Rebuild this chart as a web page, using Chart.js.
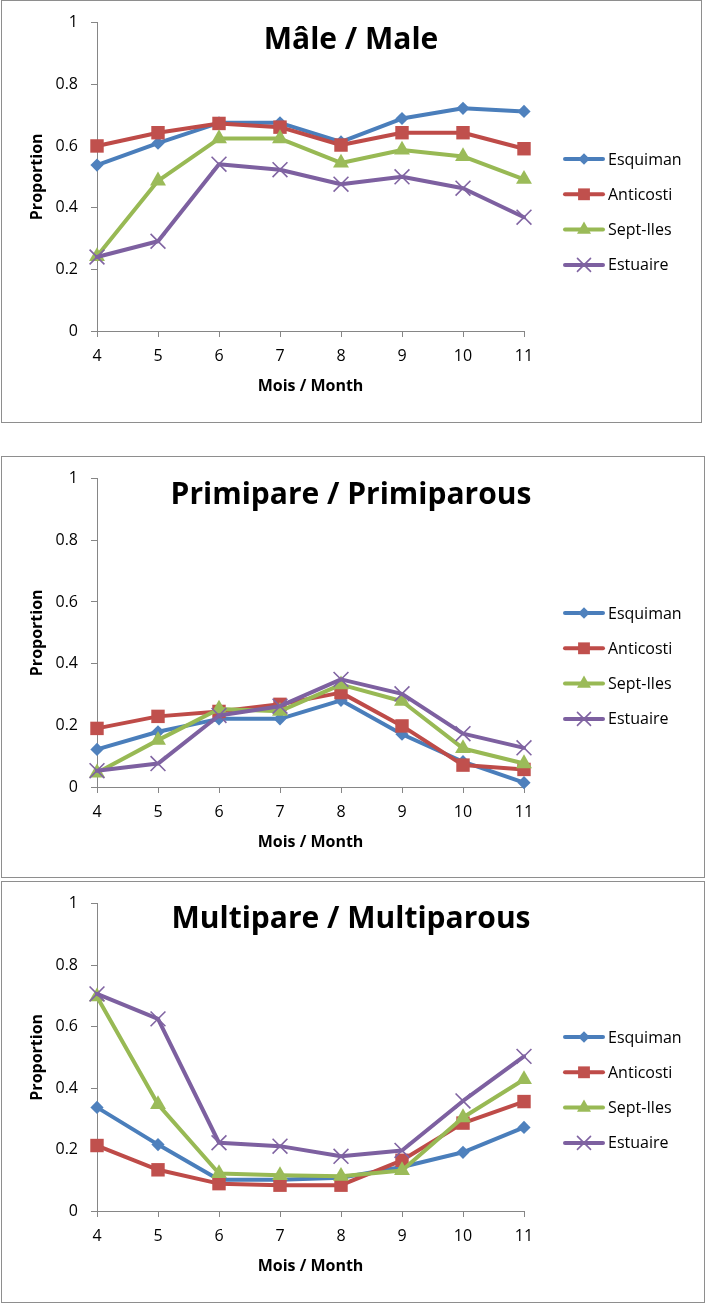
<!DOCTYPE html>
<html><head><meta charset="utf-8">
<script src="https://cdn.jsdelivr.net/npm/chart.js@4.4.0/dist/chart.umd.min.js"></script>
<style>
html,body{margin:0;padding:0;background:#fff;}
body{width:705px;height:1303px;position:relative;overflow:hidden;font-family:"Open Sans",sans-serif;}
.panel{position:absolute;box-sizing:border-box;border:1px solid #8e8e8e;}
canvas{position:absolute;left:0;}
</style></head><body>
<div class="panel" style="left:1px;top:0px;width:701px;height:423px"></div>
<div class="panel" style="left:1px;top:456px;width:704px;height:422px"></div>
<div class="panel" style="left:1px;top:881px;width:704px;height:422px"></div>
<canvas id="c1" style="top:0px" width="705" height="423"></canvas>
<canvas id="c2" style="top:456px" width="705" height="422"></canvas>
<canvas id="c3" style="top:881px" width="705" height="422"></canvas>
<script>
// ---- data ----
const months = ['4','5','6','7','8','9','10','11'];
const yTickLabels = ['0','0.2','0.4','0.6','0.8','1'];
const seriesNames = ['Esquiman','Anticosti','Sept-Iles','Estuaire'];
const panelTitles = ['Mâle / Male','Primipare / Primiparous','Multipare / Multiparous'];
const xAxisTitle = 'Mois / Month';
const yAxisTitle = 'Proportion';

const maleEsquiman  = [0.538,0.609,0.675,0.675,0.613,0.689,0.722,0.712];
const maleAnticosti = [0.600,0.643,0.673,0.661,0.603,0.643,0.643,0.591];
const maleSeptIles  = [0.242,0.487,0.624,0.624,0.545,0.587,0.566,0.492];
const maleEstuaire  = [0.240,0.291,0.541,0.523,0.476,0.500,0.463,0.369];

const primEsquiman  = [0.122,0.179,0.221,0.221,0.281,0.171,0.082,0.014];
const primAnticosti = [0.190,0.229,0.245,0.268,0.306,0.198,0.071,0.057];
const primSeptIles  = [0.046,0.152,0.253,0.246,0.332,0.278,0.125,0.076];
const primEstuaire  = [0.053,0.076,0.232,0.262,0.349,0.302,0.173,0.127];

const multEsquiman  = [0.337,0.216,0.102,0.102,0.108,0.143,0.191,0.272];
const multAnticosti = [0.213,0.134,0.089,0.084,0.084,0.165,0.286,0.356];
const multSeptIles  = [0.697,0.347,0.122,0.116,0.113,0.132,0.304,0.428];
const multEstuaire  = [0.706,0.625,0.222,0.211,0.178,0.197,0.358,0.503];

// ---- styles ----
const lineColors   = ['#4A7EBB','#BE4B48','#98B954','#7D60A0'];
const markerColors = ['#4F81BD','#C0504D','#9BBB59','#8064A2'];
const pointStyles  = ['rectRot','rect','triangle','crossRot'];
const pointRadii   = [6.6,9.5,9.2,10.5];
const pointBorders = [0,0,0,1.6];
const FONT = '"Open Sans", sans-serif';

const titlePlugin = {
  id:'panelTitle',
  afterDraw(chart, args, o){
    const ctx = chart.ctx;
    ctx.save();
    ctx.fillStyle = '#000';
    ctx.font = 'bold 30px ' + FONT;
    ctx.textAlign = 'center';
    ctx.textBaseline = 'alphabetic';
    ctx.fillText(o.text, o.x, o.y);
    ctx.restore();
  }
};

const legendPlugin = {
  id:'lineLegend',
  afterDraw(chart, args, o){
    const ctx = chart.ctx;
    ctx.save();
    chart.data.datasets.forEach((d,i)=>{
      const y = o.top + i*o.gap;
      ctx.strokeStyle = d.borderColor;
      ctx.lineWidth = d.borderWidth;
      ctx.lineCap = 'round';
      ctx.beginPath(); ctx.moveTo(o.x0, y); ctx.lineTo(o.x1, y); ctx.stroke();
      ctx.fillStyle = d.pointBackgroundColor;
      ctx.strokeStyle = d.pointBorderColor;
      ctx.lineWidth = d.pointBorderWidth;
      Chart.helpers.drawPoint(ctx, {pointStyle:d.pointStyle, radius:d.pointRadius*0.88, rotation:0, borderWidth:d.pointBorderWidth}, (o.x0+o.x1)/2, y);
      ctx.fillStyle = '#000';
      ctx.font = '16px ' + FONT;
      ctx.textAlign = 'left';
      ctx.textBaseline = 'middle';
      ctx.fillText(d.label, o.textX, y + 1);
    });
    ctx.restore();
  }
};

function makeChart(id, seriesData, title, cfg){
  const datasets = seriesNames.map((n,i)=>({
    label:n,
    data:seriesData[i],
    borderColor:lineColors[i],
    backgroundColor:markerColors[i],
    pointBackgroundColor:markerColors[i],
    pointBorderColor:markerColors[i],
    pointStyle:pointStyles[i],
    pointRadius:pointRadii[i],
    pointHoverRadius:pointRadii[i],
    pointBorderWidth:pointBorders[i],
    borderWidth:4,
    borderJoinStyle:'round',
    borderCapStyle:'round',
    tension:0,
    fill:false,
    clip:false,
    order:4-i
  }));
  const tickFont = {family:FONT, size:16};
  const axisTitleFont = {family:FONT, size:16, weight:'bold'};
  return new Chart(document.getElementById(id), {
    type:'line',
    data:{labels:months, datasets},
    options:{
      responsive:false, animation:false, devicePixelRatio:1,
      layout:{padding:{left:0, top:cfg.top, right:181, bottom:cfg.bottom}},
      plugins:{
        legend:{display:false}, tooltip:{enabled:false},
        panelTitle:{text:title, x:351, y:cfg.titleY},
        lineLegend:{top:cfg.legendTop, gap:35.3, x0:565, x1:603, textX:608}
      },
      scales:{
        x:{
          type:'category', offset:false,
          grid:{display:true, drawOnChartArea:false, drawTicks:true, tickLength:6, color:'#868686', lineWidth:1},
          border:{display:true, color:'#868686', width:1},
          ticks:{font:tickFont, color:'#000', padding:10, maxRotation:0, autoSkip:false},
          title:{display:true, text:xAxisTitle, font:axisTitleFont, color:'#000', padding:{top:0, bottom:5}},
          afterFit(s){ s.height = 70; }
        },
        y:{
          min:0, max:1,
          grid:{display:true, drawOnChartArea:false, drawTicks:true, tickLength:6, color:'#868686', lineWidth:1},
          border:{display:true, color:'#868686', width:1},
          ticks:{stepSize:0.2, font:tickFont, color:'#000', padding:13, callback:(v,i)=>yTickLabels[i]},
          title:{display:true, text:yAxisTitle, font:axisTitleFont, color:'#000', padding:{top:28, bottom:0}},
          afterFit(s){ s.width = 97; }
        }
      }
    },
    plugins:[titlePlugin, legendPlugin]
  });
}

makeChart('c1', [maleEsquiman, maleAnticosti, maleSeptIles, maleEstuaire], panelTitles[0],
  {top:21, bottom:22, titleY:49, legendTop:159});
makeChart('c2', [primEsquiman, primAnticosti, primSeptIles, primEstuaire], panelTitles[1],
  {top:21, bottom:21, titleY:47.5, legendTop:157});
makeChart('c3', [multEsquiman, multAnticosti, multSeptIles, multEstuaire], panelTitles[2],
  {top:20, bottom:22, titleY:46.5, legendTop:156});
</script>
</body></html>
